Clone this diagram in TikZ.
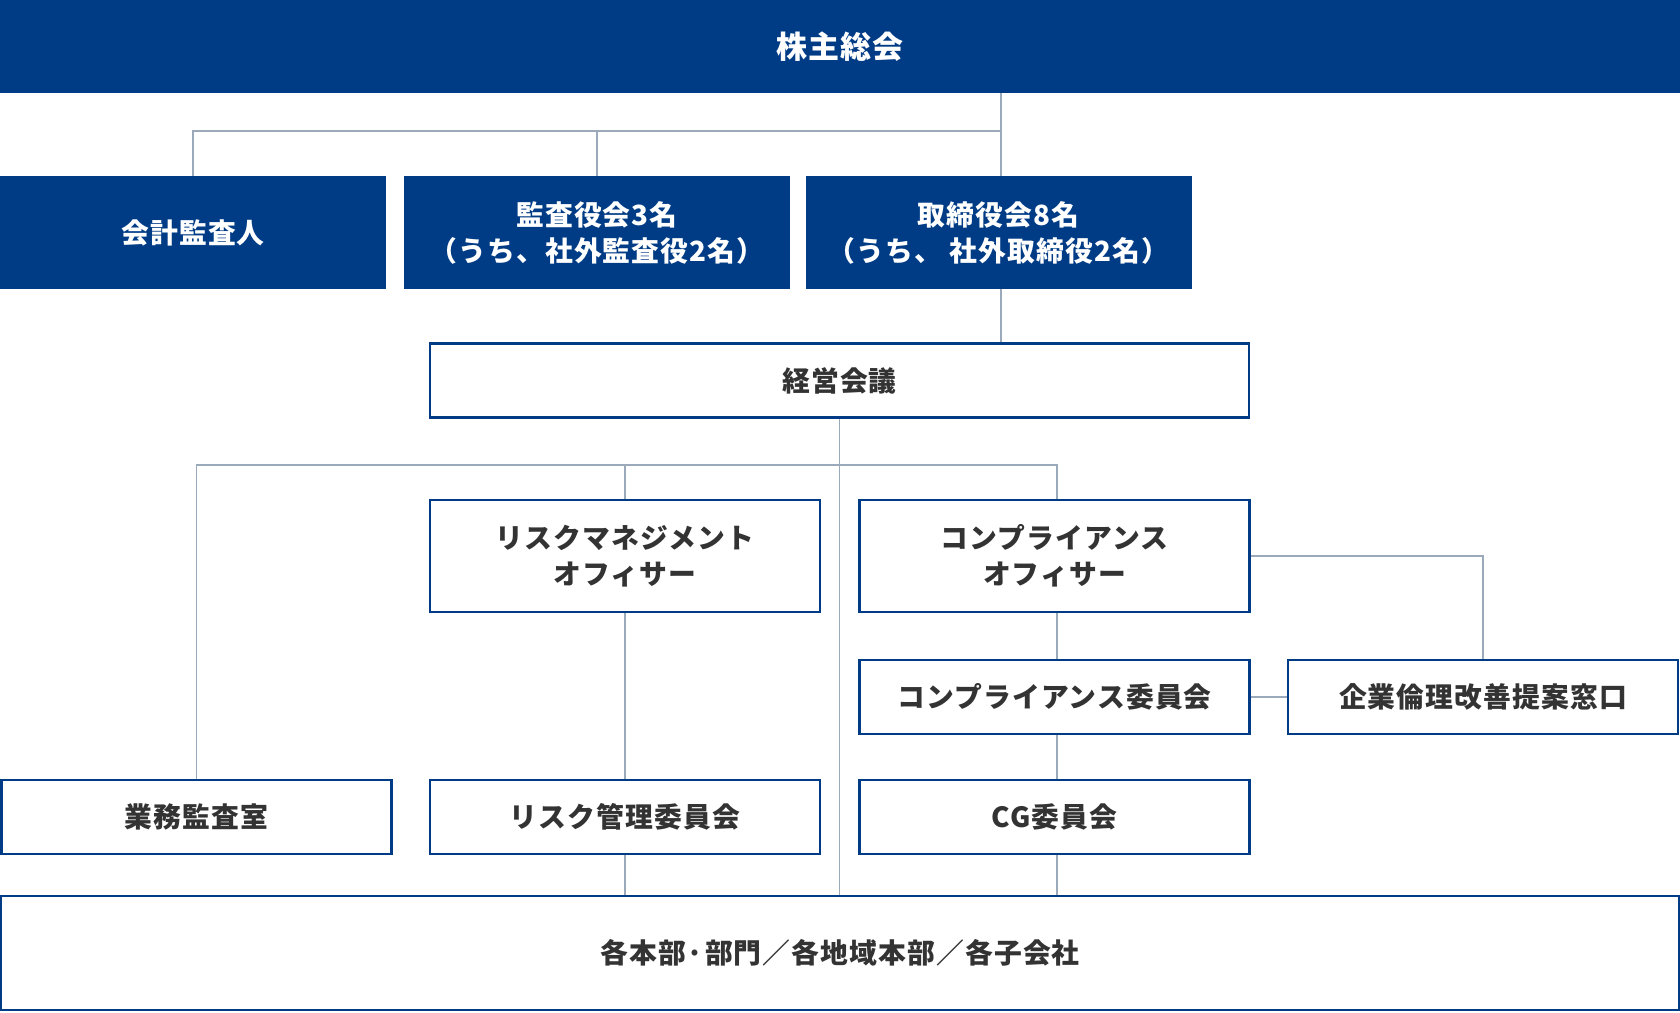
\documentclass[tikz,border=0pt]{standalone}
\usepackage{fontspec}
\setmainfont{Noto Sans CJK JP}[LetterSpace=4]
\usepackage{tikz}
\usetikzlibrary{positioning, calc, backgrounds}

\definecolor{navy}{RGB}{0,60,134}
\definecolor{linegrey}{RGB}{155,170,186}
\definecolor{textgrey}{RGB}{51,51,51}

\begin{document}
\begin{tikzpicture}[
        x=1pt, y=-1pt,
        font=\fontsize{27.8pt}{36pt}\selectfont\bfseries,
        block/.style={
            draw=navy,
            line width=2.2pt,
            fill=white,
            text=textgrey,
            align=center,
            inner sep=0pt,
            outer sep=0pt,
            minimum width=390pt,
            minimum height=74pt
        },
        tallblock/.style={block, minimum height=112pt},
        headblock/.style={
            block, draw=none, fill=navy, text=white,
            minimum width=386pt, minimum height=113pt
        },
        link/.style={
            draw=linegrey,
            line width=1.5pt
        }
    ]
    \useasboundingbox (0,0) rectangle (1680,1012);

    \node[headblock, minimum width=1680pt, minimum height=93pt,
        font=\fontsize{31pt}{36pt}\selectfont\bfseries] (agm) at (840,46.5) {株主総会};

    \node[headblock] (auditor) at (193,232.5) {会計監査人};
    \node[headblock] (kansa) at (597,232.5) {監査役会3名\\（うち、社外監査役2名）};
    \node[headblock] (board) at (998.5,232.5) {取締役会8名\\（うち、 社外取締役2名）};

    \node[block, minimum width=819pt] (keiei) at (839.5,380.5) {経営会議};

    \node[tallblock] (rmo) at (625,556) {リスクマネジメント\\オフィサー};
    \node[tallblock] (cco) at (1054.5,556) {コンプライアンス\\オフィサー};

    \node[block] (ccom) at (1054.5,697) {コンプライアンス委員会};
    \node[block] (ethics) at (1483,697) {企業倫理改善提案窓口};

    \node[block] (office) at (196.5,817) {業務監査室};
    \node[block] (riskcom) at (625,817) {リスク管理委員会};
    \node[block] (cg) at (1054.5,817) {CG委員会};

    \node[block, minimum width=1678pt, minimum height=114pt] (units) at (840,953) {各本部·部門／各地域本部／各子会社};

    \begin{scope}[on background layer]
        % upper tree
        \coordinate (topbus) at (1001,131);
        \draw[link] (agm.south -| topbus) -- (board.north -| topbus);
        \draw[link] (auditor.north) -- (auditor.north |- topbus) -- (topbus);
        \draw[link] (kansa.north) -- (kansa.north |- topbus);
        \draw[link] (board.south -| topbus) -- (keiei.north -| topbus);

        % lower tree
        \coordinate (midbus) at (1057,465);
        \draw[link] (keiei.south) -- (units.north -| keiei.south);
        \draw[link] (office.north) -- (office.north |- midbus) -- (midbus) -- (cco.north -| midbus);
        \draw[link] (rmo.north) -- (rmo.north |- midbus);
        \draw[link] (rmo) -- (riskcom);
        \draw[link] (riskcom.south) -- (units.north -| riskcom.south);
        \draw[link] (cco.south -| midbus) -- (units.north -| midbus);
        \draw[link] (cco.east) -| (ethics.north);
        \draw[link] (ccom) -- (ethics);
    \end{scope}

\end{tikzpicture}
\end{document}
